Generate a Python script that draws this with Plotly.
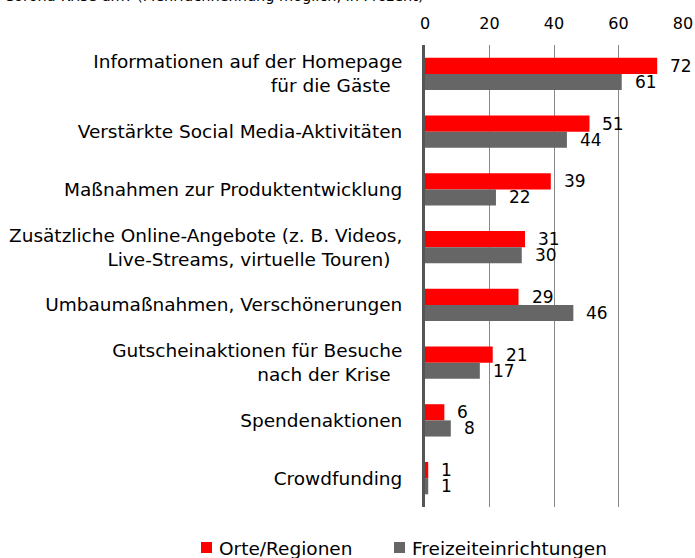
import plotly.graph_objects as go

categories = [
    "Informationen auf der Homepage<br>für die Gäste\u00a0\u00a0",
    "Verstärkte Social Media-Aktivitäten",
    "Maßnahmen zur Produktentwicklung",
    "Zusätzliche Online-Angebote (z. B. Videos,<br>Live-Streams, virtuelle Touren)\u00a0\u00a0",
    "Umbaumaßnahmen, Verschönerungen",
    "Gutscheinaktionen für Besuche<br>nach der Krise\u00a0\u00a0",
    "Spendenaktionen",
    "Crowdfunding",
]
orte = [72, 51, 39, 31, 29, 21, 6, 1]
freizeit = [61, 44, 22, 30, 46, 17, 8, 1]
series_names = ["Orte/Regionen", "Freizeiteinrichtungen"]
x_ticks = [0, 20, 40, 60, 80]
title_text = "Corona-Krise um? (Mehrfachnennung möglich, in Prozent)"

FONT = "DejaVu Sans"
RED = "#ff0000"
GRAY = "#666666"
colors = [RED, GRAY]

W, H = 695, 558
ML, MR, MT, MB = 425, 12, 45, 51
PW, PH = W - ML - MR, H - MT - MB


def px_x(p):
    return (p - ML) / PW


def px_y(p):
    return (H - MB - p) / PH


fig = go.Figure()
for name, vals, col in zip(series_names, (orte, freizeit), colors):
    fig.add_trace(go.Bar(y=categories, x=vals, name=name, orientation="h",
                         marker=dict(color=col, line=dict(width=0))))

for vals, shift in ((orte, 8), (freizeit, -8)):
    for c, v in zip(categories, vals):
        fig.add_annotation(x=v, y=c, text=str(v), showarrow=False, xanchor="left",
                           xshift=11, yshift=shift, font=dict(size=17, color="black", family=FONT))

fig.add_annotation(xref="paper", yref="paper", x=px_x(2), y=px_y(6),
                   xanchor="left", yanchor="bottom", text=title_text, showarrow=False,
                   font=dict(size=14.5, color="black", family=FONT))

# legend (drawn manually so it sits on one row like the reference)
legend_pos = [(201, 217), (394, 410)]
for name, col, (sq, tx) in zip(series_names, colors, legend_pos):
    fig.add_shape(type="rect", xref="paper", yref="paper",
                  x0=px_x(sq), x1=px_x(sq + 11), y0=px_y(553), y1=px_y(542),
                  fillcolor=col, line=dict(width=0))
    fig.add_annotation(xref="paper", yref="paper", x=px_x(tx), y=px_y(548),
                       xanchor="left", yanchor="middle", text=name, showarrow=False,
                       font=dict(size=18.5, color="black", family=FONT))

fig.update_layout(
    width=W, height=H,
    margin=dict(l=ML, r=MR, t=MT, b=MB),
    paper_bgcolor="white", plot_bgcolor="white",
    barmode="group", bargap=0.44, bargroupgap=0,
    font=dict(family=FONT, size=17, color="black"),
    showlegend=False,
    xaxis=dict(side="top", range=[0, 80], tickvals=x_ticks, showgrid=True, gridcolor="#888888",
               gridwidth=1, zeroline=False, showline=False, ticklabelstandoff=12,
               tickfont=dict(size=16), automargin=False),
    yaxis=dict(autorange="reversed", showline=True, linecolor="#555555", linewidth=3,
               ticklabelstandoff=16, tickfont=dict(size=18.5), showgrid=False, automargin=False),
)

fig.write_html("out.html")
